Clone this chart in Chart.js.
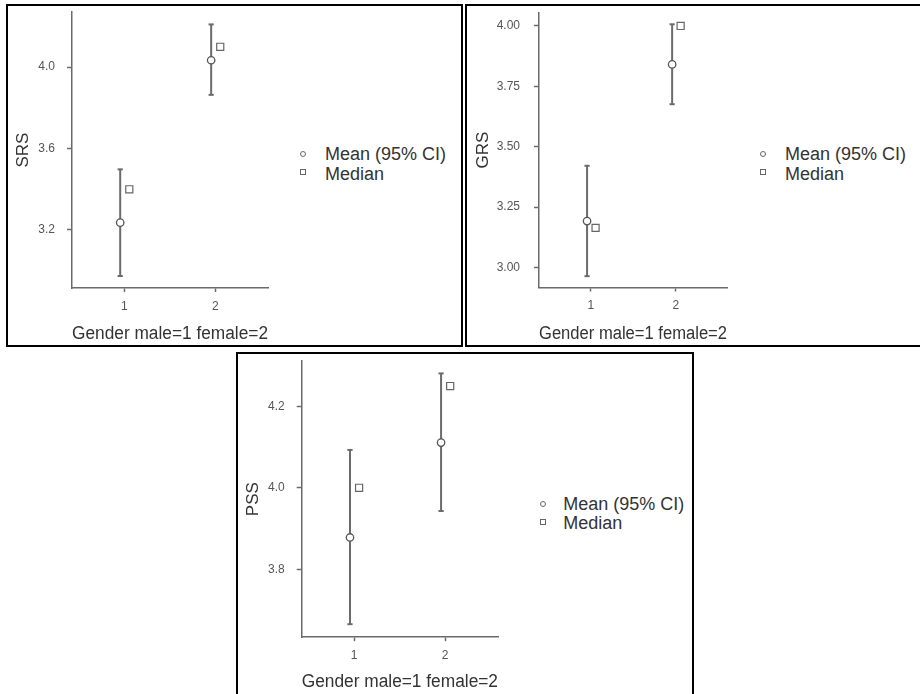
<!DOCTYPE html>
<html><head><meta charset="utf-8">
<script src="https://cdn.jsdelivr.net/npm/chart.js@4.4.1/dist/chart.umd.min.js"></script>
<style>
html,body{margin:0;padding:0;background:#fff;width:920px;height:694px;overflow:hidden;position:relative;font-family:"Liberation Sans",Arial,sans-serif;}
.box{position:absolute;border:2px solid #000;box-sizing:border-box;}
canvas{position:absolute;}
.leg{position:absolute;font-size:18px;line-height:18px;color:#333;white-space:nowrap;}
.sym{position:absolute;width:4px;height:4px;border:1px solid #666;background:#fff;}
</style></head><body>
<div class="box" style="left:6px;top:4px;width:457px;height:343px"></div>
<div class="box" style="left:465px;top:4px;width:460px;height:343px"></div>
<div class="box" style="left:236px;top:352px;width:458px;height:350px"></div>
<canvas id="c1" width="270" height="339" style="left:8px;top:6px"></canvas>
<canvas id="c2" width="269" height="339" style="left:468px;top:6px"></canvas>
<canvas id="c3" width="270" height="338" style="left:238px;top:355px"></canvas>
<div id="legends"></div>
<script>
// ---- data ----
const categories = [1, 2];
const xTickLabels = ['1', '2'];
const xTitle = 'Gender male=1 female=2';
const legendLabels = ['Mean (95% CI)', 'Median'];

const srsMean   = [3.236, 4.034];
const srsLower  = [2.974, 3.864];
const srsUpper  = [3.498, 4.210];
const srsMedian = [3.40, 4.10];
const srsTicks  = [3.2, 3.6, 4.0];
const srsTickLabels = ['3.2', '3.6', '4.0'];

const grsMean   = [3.192, 3.841];
const grsLower  = [2.964, 3.676];
const grsUpper  = [3.421, 4.007];
const grsMedian = [3.164, 4.00];
const grsTicks  = [3.00, 3.25, 3.50, 3.75, 4.00];
const grsTickLabels = ['3.00', '3.25', '3.50', '3.75', '4.00'];

const pssMean   = [3.878, 4.111];
const pssLower  = [3.665, 3.943];
const pssUpper  = [4.093, 4.281];
const pssMedian = [4.00, 4.25];
const pssTicks  = [3.8, 4.0, 4.2];
const pssTickLabels = ['3.8', '4.0', '4.2'];

// ---- style ----
const FAM = '"Liberation Sans", Arial, sans-serif';
Chart.defaults.font.family = FAM;
const LINE = '#6b6b6b';
const AX = '#6a6a6a';
const MEAN_OFF = -0.045;
const MED_OFF = 0.055;

function makeChart(id, p) {
  const ds = [];
  categories.forEach((c, i) => {
    ds.push({
      type: 'scatter', showLine: true,
      data: [{x: c + MEAN_OFF, y: p.lower[i]}, {x: c + MEAN_OFF, y: p.upper[i]}],
      borderColor: LINE, borderWidth: 2,
      pointStyle: 'line', pointRadius: 2.6, pointHoverRadius: 2.6,
      pointBorderColor: LINE, pointBorderWidth: 2, order: 3, clip: false
    });
  });
  ds.push({
    type: 'scatter', label: legendLabels[1],
    data: categories.map((c, i) => ({x: c + MED_OFF, y: p.median[i]})),
    pointStyle: 'rect', pointRadius: 5, pointHoverRadius: 5,
    pointBackgroundColor: '#fff', pointBorderColor: '#666', pointBorderWidth: 1.2, order: 1, clip: false
  });
  ds.push({
    type: 'scatter', label: legendLabels[0],
    data: categories.map((c, i) => ({x: c + MEAN_OFF, y: p.mean[i]})),
    pointStyle: 'circle', pointRadius: 3.7, pointHoverRadius: 3.7,
    pointBackgroundColor: '#fff', pointBorderColor: '#555', pointBorderWidth: 1.3, order: 0, clip: false
  });
  new Chart(document.getElementById(id), {
    type: 'scatter',
    data: {datasets: ds},
    options: {
      responsive: false, animation: false, devicePixelRatio: 1,
      layout: {padding: {left: 0, top: p.padTop, right: 10, bottom: 0}},
      plugins: {legend: {display: false}, tooltip: {enabled: false}},
      events: [],
      scales: {
        x: {
          type: 'linear', min: p.xmin, max: p.xmax,
          afterBuildTicks: a => { a.ticks = categories.map(v => ({value: v})); },
          afterFit: s => { s.height = p.xh; s.paddingLeft = 0; s.paddingRight = 0; },
          ticks: {callback: (v, i) => xTickLabels[i], font: {size: 12}, color: '#555', padding: 7, maxRotation: 0},
          grid: {drawOnChartArea: false, color: AX, tickLength: 4, tickWidth: 1.5},
          border: {display: true, color: AX, width: 1.5},
          title: {display: true, text: xTitle, font: {size: 18}, color: '#333', padding: {top: 0, bottom: 0}}
        },
        y: {
          type: 'linear', min: p.ymin, max: p.ymax,
          afterBuildTicks: a => { a.ticks = p.ticks.map(v => ({value: v})); },
          afterFit: s => { s.width = p.yw; s.paddingTop = 0; s.paddingBottom = 0; },
          ticks: {callback: (v, i) => p.tickLabels[i], font: {size: 12}, color: '#555', padding: p.tpad},
          grid: {drawOnChartArea: false, color: AX, tickLength: 5, tickWidth: 1.5},
          border: {display: true, color: AX, width: 1.5},
          title: {display: true, text: p.title, font: {size: 17}, color: '#333', padding: {top: p.ytp, bottom: 0}}
        }
      }
    }
  });
}

makeChart('c1', {mean: srsMean, lower: srsLower, upper: srsUpper, median: srsMedian,
  ticks: srsTicks, tickLabels: srsTickLabels, title: 'SRS',
  xmin: 0.425, xmax: 2.58, ymin: 2.915, ymax: 4.27, padTop: 6, xh: 57, yw: 64, tpad: 12, ytp: 4.8});
makeChart('c2', {mean: grsMean, lower: grsLower, upper: grsUpper, median: grsMedian,
  ticks: grsTicks, tickLabels: grsTickLabels, title: 'GRS',
  xmin: 0.39, xmax: 2.6, ymin: 2.917, ymax: 4.055, padTop: 6.7, xh: 57.5, yw: 71, tpad: 14, ytp: 5.1});
makeChart('c3', {mean: pssMean, lower: pssLower, upper: pssUpper, median: pssMedian,
  ticks: pssTicks, tickLabels: pssTickLabels, title: 'PSS',
  xmin: 0.425, xmax: 2.58, ymin: 3.633, ymax: 4.311, padTop: 5, xh: 55.8, yw: 63.7, tpad: 12, ytp: 5.1});

// ---- legends ----
const legendSpots = [
  {sx: 303.3, sy: [154.3, 172.3], tx: 325, ty: [153.5, 173.3]},
  {sx: 763.3, sy: [154.3, 172.3], tx: 785, ty: [153.5, 173.3]},
  {sx: 543.3, sy: [504.3, 522.3], tx: 563.3, ty: [503.5, 522.5]}
];
const host = document.getElementById('legends');
legendSpots.forEach(L => {
  legendLabels.forEach((lab, i) => {
    const s = document.createElement('div');
    s.className = 'sym';
    s.style.left = (L.sx - 3) + 'px';
    s.style.top = (L.sy[i] - 3) + 'px';
    if (i === 0) s.style.borderRadius = '50%';
    host.appendChild(s);
    const t = document.createElement('div');
    t.className = 'leg';
    t.textContent = lab;
    t.style.left = L.tx + 'px';
    t.style.top = (L.ty[i] - 8.8) + 'px';
    host.appendChild(t);
  });
});
</script>
</body></html>
